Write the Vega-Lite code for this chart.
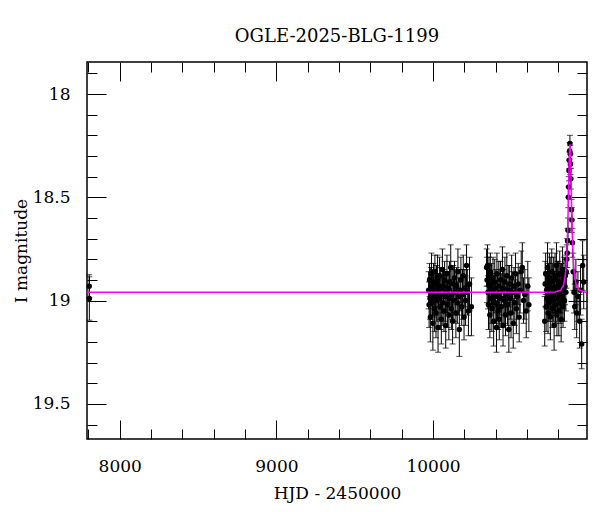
{
  "$schema": "https://vega.github.io/schema/vega-lite/v6.json",
  "width": 500,
  "height": 377,
  "autosize": {"type": "none"},
  "padding": {"left": 87, "top": 62, "right": 13, "bottom": 73},
  "background": "white",
  "title": {"text": "OGLE-2025-BLG-1199", "font": "DejaVu Serif", "fontSize": 18, "fontWeight": "normal", "color": "black", "offset": 2, "baseline": "alphabetic", "anchor": "middle"},
  "config": {
    "view": {"stroke": "black", "strokeWidth": 1.5},
    "axis": {"grid": false, "domain": false, "tickColor": "black", "tickWidth": 1, "labelColor": "black", "titleColor": "black", "labelFont": "DejaVu Serif", "titleFont": "DejaVu Serif", "labelFontSize": 17, "titleFontSize": 17, "titleFontWeight": "normal"}
  },
  "datasets": {
    "obs": [
      {"t": 7805, "m": 18.93, "e": 0.055},
      {"t": 7806, "m": 18.99, "e": 0.105},
      {"t": 9972, "m": 18.95, "e": 0.09}, {"t": 9975, "m": 19.02, "e": 0.11}, {"t": 9978, "m": 18.90, "e": 0.08}, {"t": 9981, "m": 18.99, "e": 0.10},
      {"t": 9983, "m": 19.08, "e": 0.12}, {"t": 9986, "m": 18.93, "e": 0.09}, {"t": 9990, "m": 18.87, "e": 0.10}, {"t": 9993, "m": 19.01, "e": 0.08},
      {"t": 9996, "m": 18.96, "e": 0.11}, {"t": 9999, "m": 19.11, "e": 0.13}, {"t": 10003, "m": 18.91, "e": 0.09}, {"t": 10006, "m": 18.98, "e": 0.10},
      {"t": 10009, "m": 19.04, "e": 0.11}, {"t": 10012, "m": 18.86, "e": 0.08}, {"t": 10015, "m": 18.97, "e": 0.10}, {"t": 10019, "m": 19.06, "e": 0.12},
      {"t": 10022, "m": 18.92, "e": 0.09}, {"t": 10025, "m": 19.00, "e": 0.10}, {"t": 10029, "m": 18.89, "e": 0.11}, {"t": 10032, "m": 19.13, "e": 0.12},
      {"t": 10035, "m": 18.95, "e": 0.08}, {"t": 10039, "m": 18.99, "e": 0.10}, {"t": 10042, "m": 18.88, "e": 0.09}, {"t": 10046, "m": 19.03, "e": 0.11},
      {"t": 10049, "m": 18.94, "e": 0.10}, {"t": 10053, "m": 19.09, "e": 0.12}, {"t": 10056, "m": 18.97, "e": 0.09}, {"t": 10060, "m": 18.85, "e": 0.10},
      {"t": 10063, "m": 19.01, "e": 0.11}, {"t": 10067, "m": 18.93, "e": 0.08}, {"t": 10070, "m": 19.05, "e": 0.10}, {"t": 10074, "m": 18.90, "e": 0.09},
      {"t": 10078, "m": 18.98, "e": 0.12}, {"t": 10081, "m": 19.12, "e": 0.11}, {"t": 10085, "m": 18.96, "e": 0.10}, {"t": 10089, "m": 18.87, "e": 0.09},
      {"t": 10093, "m": 19.02, "e": 0.11}, {"t": 10097, "m": 18.94, "e": 0.08}, {"t": 10101, "m": 19.07, "e": 0.12}, {"t": 10105, "m": 18.91, "e": 0.10},
      {"t": 10109, "m": 18.99, "e": 0.09}, {"t": 10113, "m": 18.84, "e": 0.11}, {"t": 10117, "m": 19.04, "e": 0.10}, {"t": 10121, "m": 18.97, "e": 0.12},
      {"t": 10125, "m": 19.10, "e": 0.11}, {"t": 10129, "m": 18.92, "e": 0.09}, {"t": 10133, "m": 19.00, "e": 0.10}, {"t": 10137, "m": 18.89, "e": 0.08},
      {"t": 10141, "m": 18.96, "e": 0.11}, {"t": 10146, "m": 19.06, "e": 0.12}, {"t": 10150, "m": 18.93, "e": 0.09}, {"t": 10155, "m": 19.01, "e": 0.10},
      {"t": 10159, "m": 18.86, "e": 0.11}, {"t": 10164, "m": 18.98, "e": 0.09}, {"t": 10168, "m": 19.14, "e": 0.13}, {"t": 10173, "m": 18.95, "e": 0.10},
      {"t": 10178, "m": 18.90, "e": 0.11}, {"t": 10183, "m": 19.03, "e": 0.09}, {"t": 10188, "m": 18.97, "e": 0.12}, {"t": 10193, "m": 18.88, "e": 0.10},
      {"t": 10198, "m": 19.08, "e": 0.11}, {"t": 10203, "m": 18.94, "e": 0.09}, {"t": 10208, "m": 19.00, "e": 0.12}, {"t": 10214, "m": 18.83, "e": 0.10},
      {"t": 10219, "m": 18.96, "e": 0.11}, {"t": 10226, "m": 19.05, "e": 0.12}, {"t": 10233, "m": 18.92, "e": 0.13}, {"t": 10245, "m": 19.03, "e": 0.14},
      {"t": 10342, "m": 18.84, "e": 0.09}, {"t": 10345, "m": 18.90, "e": 0.11}, {"t": 10348, "m": 18.83, "e": 0.10}, {"t": 10351, "m": 18.96, "e": 0.08},
      {"t": 10354, "m": 19.02, "e": 0.12}, {"t": 10357, "m": 18.88, "e": 0.09}, {"t": 10360, "m": 18.93, "e": 0.10}, {"t": 10363, "m": 19.07, "e": 0.11},
      {"t": 10366, "m": 18.86, "e": 0.09}, {"t": 10370, "m": 18.99, "e": 0.12}, {"t": 10373, "m": 18.92, "e": 0.10}, {"t": 10376, "m": 19.04, "e": 0.11},
      {"t": 10380, "m": 18.95, "e": 0.08}, {"t": 10383, "m": 18.89, "e": 0.10}, {"t": 10387, "m": 19.10, "e": 0.12}, {"t": 10390, "m": 18.97, "e": 0.09},
      {"t": 10394, "m": 18.91, "e": 0.11}, {"t": 10397, "m": 19.01, "e": 0.10}, {"t": 10401, "m": 18.94, "e": 0.09}, {"t": 10405, "m": 19.13, "e": 0.12},
      {"t": 10408, "m": 18.87, "e": 0.10}, {"t": 10412, "m": 18.98, "e": 0.11}, {"t": 10416, "m": 19.05, "e": 0.09}, {"t": 10420, "m": 18.93, "e": 0.12},
      {"t": 10423, "m": 19.09, "e": 0.10}, {"t": 10427, "m": 18.96, "e": 0.11}, {"t": 10431, "m": 18.90, "e": 0.09}, {"t": 10435, "m": 19.03, "e": 0.10},
      {"t": 10439, "m": 18.99, "e": 0.12}, {"t": 10443, "m": 18.85, "e": 0.11}, {"t": 10447, "m": 19.12, "e": 0.10}, {"t": 10451, "m": 18.94, "e": 0.09},
      {"t": 10455, "m": 19.00, "e": 0.11}, {"t": 10459, "m": 18.91, "e": 0.12}, {"t": 10463, "m": 19.07, "e": 0.10}, {"t": 10467, "m": 18.97, "e": 0.09},
      {"t": 10471, "m": 18.88, "e": 0.11}, {"t": 10476, "m": 19.02, "e": 0.10}, {"t": 10480, "m": 18.95, "e": 0.12}, {"t": 10484, "m": 19.14, "e": 0.11},
      {"t": 10489, "m": 18.92, "e": 0.09}, {"t": 10493, "m": 18.99, "e": 0.10}, {"t": 10498, "m": 19.06, "e": 0.12}, {"t": 10502, "m": 18.89, "e": 0.11},
      {"t": 10507, "m": 18.96, "e": 0.10}, {"t": 10512, "m": 19.11, "e": 0.12}, {"t": 10517, "m": 18.93, "e": 0.09}, {"t": 10522, "m": 19.01, "e": 0.11},
      {"t": 10527, "m": 18.87, "e": 0.10}, {"t": 10532, "m": 19.04, "e": 0.12}, {"t": 10538, "m": 18.98, "e": 0.11}, {"t": 10544, "m": 18.92, "e": 0.10},
      {"t": 10550, "m": 19.08, "e": 0.12}, {"t": 10556, "m": 18.95, "e": 0.11}, {"t": 10563, "m": 18.86, "e": 0.10}, {"t": 10570, "m": 18.84, "e": 0.12},
      {"t": 10578, "m": 19.00, "e": 0.11}, {"t": 10586, "m": 18.97, "e": 0.12}, {"t": 10595, "m": 19.05, "e": 0.13}, {"t": 10605, "m": 18.93, "e": 0.12},
      {"t": 10612, "m": 19.02, "e": 0.13},
      {"t": 10713, "m": 19.10, "e": 0.12}, {"t": 10716, "m": 18.92, "e": 0.11}, {"t": 10719, "m": 18.87, "e": 0.10}, {"t": 10722, "m": 19.03, "e": 0.12},
      {"t": 10725, "m": 18.95, "e": 0.09}, {"t": 10728, "m": 18.99, "e": 0.11}, {"t": 10731, "m": 18.84, "e": 0.12}, {"t": 10734, "m": 19.06, "e": 0.10},
      {"t": 10737, "m": 18.93, "e": 0.11}, {"t": 10740, "m": 19.01, "e": 0.09}, {"t": 10743, "m": 18.89, "e": 0.12}, {"t": 10746, "m": 18.97, "e": 0.10},
      {"t": 10749, "m": 19.08, "e": 0.11}, {"t": 10752, "m": 18.91, "e": 0.12}, {"t": 10755, "m": 18.98, "e": 0.10}, {"t": 10758, "m": 18.86, "e": 0.11},
      {"t": 10761, "m": 19.04, "e": 0.09}, {"t": 10764, "m": 18.94, "e": 0.12}, {"t": 10767, "m": 19.00, "e": 0.10}, {"t": 10770, "m": 18.90, "e": 0.11},
      {"t": 10773, "m": 19.12, "e": 0.12}, {"t": 10776, "m": 18.96, "e": 0.10}, {"t": 10779, "m": 18.88, "e": 0.11}, {"t": 10782, "m": 19.02, "e": 0.09},
      {"t": 10785, "m": 18.95, "e": 0.12}, {"t": 10788, "m": 18.83, "e": 0.11}, {"t": 10791, "m": 19.07, "e": 0.10}, {"t": 10794, "m": 18.93, "e": 0.12},
      {"t": 10797, "m": 18.99, "e": 0.11}, {"t": 10800, "m": 18.91, "e": 0.10}, {"t": 10803, "m": 19.05, "e": 0.12}, {"t": 10806, "m": 18.97, "e": 0.09},
      {"t": 10809, "m": 18.87, "e": 0.11}, {"t": 10812, "m": 19.01, "e": 0.10}, {"t": 10815, "m": 18.94, "e": 0.12}, {"t": 10818, "m": 19.09, "e": 0.11},
      {"t": 10821, "m": 18.92, "e": 0.10}, {"t": 10824, "m": 18.98, "e": 0.12}, {"t": 10827, "m": 18.85, "e": 0.11}, {"t": 10830, "m": 19.03, "e": 0.10},
      {"t": 10833, "m": 18.95, "e": 0.09}, {"t": 10836, "m": 18.90, "e": 0.11}, {"t": 10839, "m": 19.00, "e": 0.10}, {"t": 10842, "m": 18.93, "e": 0.09},
      {"t": 10845, "m": 18.88, "e": 0.08}, {"t": 10848, "m": 18.96, "e": 0.09}, {"t": 10851, "m": 18.86, "e": 0.08}, {"t": 10854, "m": 18.80, "e": 0.07},
      {"t": 10857, "m": 18.77, "e": 0.07}, {"t": 10859, "m": 18.71, "e": 0.06}, {"t": 10861.5, "m": 18.66, "e": 0.06}, {"t": 10864, "m": 18.50, "e": 0.05},
      {"t": 10866, "m": 18.45, "e": 0.05}, {"t": 10868, "m": 18.37, "e": 0.05}, {"t": 10870.5, "m": 18.32, "e": 0.04}, {"t": 10872, "m": 18.275, "e": 0.04},
      {"t": 10874, "m": 18.24, "e": 0.04}, {"t": 10876.5, "m": 18.29, "e": 0.04}, {"t": 10877.5, "m": 18.34, "e": 0.05}, {"t": 10880, "m": 18.41, "e": 0.05},
      {"t": 10884, "m": 18.56, "e": 0.05}, {"t": 10886.5, "m": 18.61, "e": 0.06}, {"t": 10890, "m": 18.72, "e": 0.07}, {"t": 10895, "m": 18.86, "e": 0.09},
      {"t": 10900, "m": 18.96, "e": 0.10}, {"t": 10905, "m": 19.03, "e": 0.11}, {"t": 10912, "m": 18.91, "e": 0.11}, {"t": 10917, "m": 19.06, "e": 0.12},
      {"t": 10925, "m": 18.98, "e": 0.12}, {"t": 10936, "m": 19.10, "e": 0.13}, {"t": 10942, "m": 18.95, "e": 0.12}, {"t": 10949, "m": 19.21, "e": 0.12},
      {"t": 10955, "m": 18.83, "e": 0.12}, {"t": 10962, "m": 18.91, "e": 0.13}
    ],
    "model": [
      {"t": 7791, "m": 18.96}, {"t": 10700, "m": 18.96}, {"t": 10780, "m": 18.958}, {"t": 10814, "m": 18.95},
      {"t": 10834, "m": 18.924}, {"t": 10844, "m": 18.88}, {"t": 10849, "m": 18.84}, {"t": 10854, "m": 18.775},
      {"t": 10858, "m": 18.696}, {"t": 10861, "m": 18.617}, {"t": 10864, "m": 18.519}, {"t": 10866, "m": 18.447},
      {"t": 10868, "m": 18.374}, {"t": 10870, "m": 18.308}, {"t": 10872, "m": 18.261}, {"t": 10873, "m": 18.248},
      {"t": 10874, "m": 18.244}, {"t": 10875, "m": 18.248}, {"t": 10876, "m": 18.261}, {"t": 10878, "m": 18.308},
      {"t": 10880, "m": 18.374}, {"t": 10882, "m": 18.447}, {"t": 10884, "m": 18.519}, {"t": 10887, "m": 18.617},
      {"t": 10890, "m": 18.696}, {"t": 10894, "m": 18.775}, {"t": 10899, "m": 18.84}, {"t": 10904, "m": 18.88},
      {"t": 10914, "m": 18.924}, {"t": 10934, "m": 18.95}, {"t": 10968, "m": 18.958}, {"t": 10983, "m": 18.96}
    ]
  },
  "layer": [
    {
      "data": {"name": "obs"},
      "mark": {"type": "errorbar", "ticks": {"size": 6, "thickness": 1, "color": "black"}, "rule": {"strokeWidth": 1, "color": "black"}},
      "encoding": {
        "x": {"field": "t", "type": "quantitative", "scale": {"domain": [7791, 10983], "nice": false, "zero": false},
              "axis": {"orient": "bottom", "values": [8000, 9000, 10000], "ticks": false, "labelPadding": 19, "format": "d", "title": "HJD - 2450000", "titlePadding": 11}},
        "y": {"field": "m", "type": "quantitative", "scale": {"domain": [17.845, 19.67], "reverse": true, "nice": false, "zero": false},
              "axis": {"orient": "left", "values": [18, 18.5, 19, 19.5], "ticks": false, "labelPadding": 17, "format": "~g", "title": "I magnitude", "titlePadding": 2}},
        "yError": {"field": "e"}
      }
    },
    {
      "data": {"name": "obs"},
      "mark": {"type": "point", "filled": true, "size": 30, "color": "black", "opacity": 1},
      "encoding": {
        "x": {"field": "t", "type": "quantitative", "axis": {"orient": "bottom", "values": [8000, 9000, 10000], "labels": false, "tickSize": -19, "title": null}},
        "y": {"field": "m", "type": "quantitative", "axis": {"orient": "left", "values": [18, 18.5, 19, 19.5], "labels": false, "tickSize": -19, "title": null}}
      }
    },
    {
      "data": {"name": "obs"},
      "mark": {"type": "point", "opacity": 0},
      "encoding": {
        "x": {"field": "t", "type": "quantitative", "axis": {"orient": "bottom", "values": [7800, 8200, 8400, 8600, 8800, 9200, 9400, 9600, 9800, 10200, 10400, 10600, 10800], "labels": false, "tickSize": -10, "title": null}},
        "y": {"field": "m", "type": "quantitative", "axis": {"orient": "left", "values": [17.9, 18.1, 18.2, 18.3, 18.4, 18.6, 18.7, 18.8, 18.9, 19.1, 19.2, 19.3, 19.4, 19.6], "labels": false, "tickSize": -10, "title": null}}
      }
    },
    {
      "data": {"name": "obs"},
      "mark": {"type": "point", "opacity": 0},
      "encoding": {
        "x": {"field": "t", "type": "quantitative", "axis": {"orient": "top", "values": [7800, 8200, 8400, 8600, 8800, 9200, 9400, 9600, 9800, 10200, 10400, 10600, 10800], "labels": false, "tickSize": -10, "title": null}},
        "y": {"field": "m", "type": "quantitative", "axis": {"orient": "right", "values": [17.9, 18.1, 18.2, 18.3, 18.4, 18.6, 18.7, 18.8, 18.9, 19.1, 19.2, 19.3, 19.4, 19.6], "labels": false, "tickSize": -10, "title": null}}
      }
    },
    {
      "data": {"name": "model"},
      "mark": {"type": "line", "color": "#ff00ff", "strokeWidth": 1.5},
      "encoding": {
        "x": {"field": "t", "type": "quantitative", "axis": {"orient": "top", "values": [8000, 9000, 10000], "labels": false, "tickSize": -19, "title": null}},
        "y": {"field": "m", "type": "quantitative", "axis": {"orient": "right", "values": [18, 18.5, 19, 19.5], "labels": false, "tickSize": -19, "title": null}}
      }
    }
  ],
  "resolve": {"axis": {"x": "independent", "y": "independent"}}
}
